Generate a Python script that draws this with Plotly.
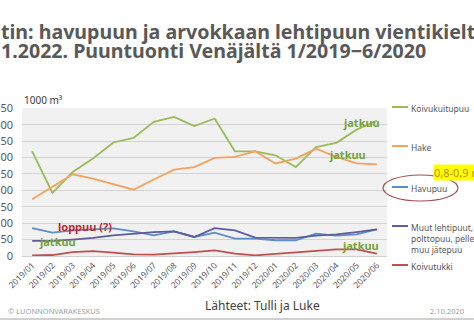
import plotly.graph_objects as go

months = ["2019/01", "2019/02", "2019/03", "2019/04", "2019/05", "2019/06",
          "2019/07", "2019/08", "2019/09", "2019/10", "2019/11", "2019/12",
          "2020/01", "2020/02", "2020/03", "2020/04", "2020/05", "2020/06"]

koivukuitupuu = [319, 192, 256, 297, 346, 360, 409, 424, 396, 419, 319, 319, 307, 271, 332, 345, 385, 412]
hake = [173, 210, 249, 236, 218, 202, 233, 263, 271, 299, 302, 319, 282, 297, 327, 302, 282, 279]
havupuu = [85, 71, 78, 80, 84, 75, 63, 75, 58, 71, 53, 53, 48, 48, 68, 62, 66, 81]
muut = [46, 46, 50, 55, 63, 68, 73, 75, 58, 85, 78, 56, 56, 55, 62, 66, 73, 81]
koivutukki = [2, 3, 12, 15, 10, 5, 4, 7, 12, 17, 7, 2, 7, 10, 17, 20, 20, 7]

series_names = ["Koivukuitupuu", "Hake", "Havupuu",
                "Muut lehtipuut,<br>polttopuu, pelletit,<br>muu jätepuu", "Koivutukki"]
series_values = [koivukuitupuu, hake, havupuu, muut, koivutukki]
series_colors = ["#9bbb59", "#f4a35c", "#5b8dc8", "#5e5c9e", "#c0504d"]

y_ticks = [0, 50, 100, 150, 200, 250, 300, 350, 400, 450]

W, H = 474, 324
L, R, T, B = 22, 387, 108, 256


def px(x):
    return (x - L) / (R - L)


def py(y):
    return (B - y) / (B - T)


FONT = "Noto Sans"
fig = go.Figure()
for name, vals, col in zip(series_names, series_values, series_colors):
    fig.add_trace(go.Scatter(x=months, y=vals, mode="lines", name=name,
                             line=dict(color=col, width=1.8), showlegend=False))

ann = []
shapes = []

# Title (cropped slide title)
ann.append(dict(text="tin: havupuun ja arvokkaan lehtipuun vientikielto", x=px(-1), y=py(31),
                xref="paper", yref="paper", xanchor="left", yanchor="middle", showarrow=False,
                font=dict(family=FONT, size=19.6, color="#595959", weight="bold")))
ann.append(dict(text="1.2022. Puuntuonti Venäjältä 1/2019−6/2020", x=px(-1), y=py(50),
                xref="paper", yref="paper", xanchor="left", yanchor="middle", showarrow=False,
                font=dict(family=FONT, size=19.6, color="#595959", weight="bold")))

# unit label
ann.append(dict(text="1000 m³", x=px(22), y=py(100), xref="paper", yref="paper",
                xanchor="left", yanchor="middle", showarrow=False,
                font=dict(family=FONT, size=10, color="#404040")))

# in-chart notes
green_note = "#76a33a"
for (tx, x0, y0, c) in [("loppuu (?)", 85, 226, "#c0282d"), ("jatkuu", 57, 241, green_note),
                        ("jatkuu", 361, 122, green_note), ("jatkuu", 347, 154, green_note),
                        ("jatkuu", 360, 245, green_note)]:
    ann.append(dict(text=tx, x=px(x0), y=py(y0), xref="paper", yref="paper",
                    xanchor="center", yanchor="middle", showarrow=False,
                    font=dict(family=FONT, size=11, color=c, weight="bold")))

# custom legend
leg_y = [107, 146, 187, 226, 265]
for name, col, yy in zip(series_names, series_colors, leg_y):
    shapes.append(dict(type="line", xref="paper", yref="paper", x0=px(392), x1=px(408),
                       y0=py(yy), y1=py(yy), line=dict(color=col, width=2)))
    ann.append(dict(text=name, x=px(409), y=py(yy - 6), xref="paper", yref="paper",
                    xanchor="left", yanchor="top", align="left", showarrow=False,
                    font=dict(family=FONT, size=8.5, color="#595959")))

# ellipse around Havupuu + highlighted note
shapes.append(dict(type="circle", xref="paper", yref="paper", x0=px(383), x1=px(458),
                   y0=py(175), y1=py(201), line=dict(color="#a05252", width=1.2)))
ann.append(dict(text="0,8-0,9 milj. m³", x=px(433), y=py(172), xref="paper", yref="paper",
                xanchor="left", yanchor="middle", showarrow=False, bgcolor="#ffff00",
                borderpad=0, font=dict(family=FONT, size=11, color="#c58a00")))

# footer
ann.append(dict(text="Lähteet: Tulli ja Luke", x=px(262), y=py(305), xref="paper", yref="paper",
                xanchor="center", yanchor="middle", showarrow=False,
                font=dict(family=FONT, size=12, color="#404040")))
ann.append(dict(text="© LUONNONVARAKESKUS", x=px(6), y=py(311), xref="paper", yref="paper",
                xanchor="left", yanchor="middle", showarrow=False,
                font=dict(family=FONT, size=7.5, color="#a0a0a0")))
ann.append(dict(text="2.10.2020", x=px(466), y=py(311), xref="paper", yref="paper",
                xanchor="right", yanchor="middle", showarrow=False,
                font=dict(family=FONT, size=7.5, color="#a0a0a0")))
shapes.append(dict(type="line", xref="paper", yref="paper", x0=px(0), x1=px(474),
                   y0=py(319), y1=py(319), line=dict(color="#c0c0c0", width=1.5)))

fig.update_layout(
    width=W, height=H,
    margin=dict(l=L, r=W - R, t=T, b=H - B, autoexpand=False),
    paper_bgcolor="white", plot_bgcolor="#f1f1f1",
    annotations=ann, shapes=shapes,
    font=dict(family=FONT),
)
fig.update_xaxes(type="category", range=[-0.5, 17.5], tickangle=-45,
                 tickfont=dict(size=8.5, color="#595959"), showgrid=False,
                 showline=True, linecolor="#d0d0d0", ticks="", automargin=False)
fig.update_yaxes(range=[0, 451], tickvals=y_ticks, showgrid=True, gridcolor="#d3d3d3",
                 gridwidth=1, zeroline=True, zerolinecolor="#d3d3d3",
                 tickfont=dict(size=11, color="#595959"), ticks="", automargin=False,
                 ticklabelstandoff=8)

fig.write_html("out.html")
